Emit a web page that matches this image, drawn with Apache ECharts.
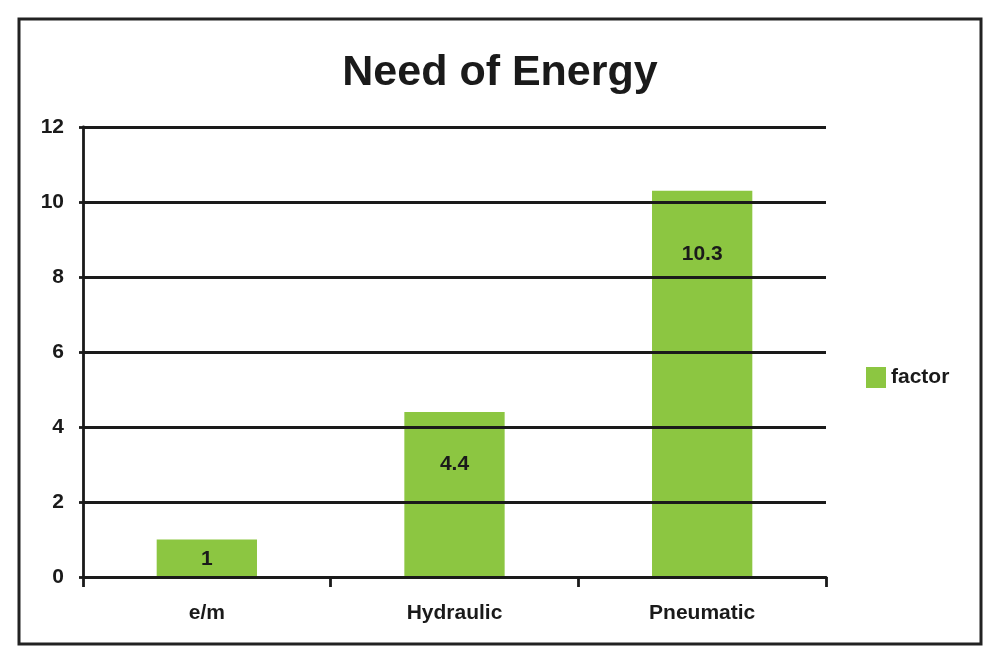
<!DOCTYPE html>
<html>
<head>
<meta charset="utf-8">
<script src="https://cdn.jsdelivr.net/npm/echarts@6/dist/echarts.min.js"></script>
<style>html,body{margin:0;padding:0;background:#fff}#c{width:1000px;height:663px}</style>
</head>
<body>
<div id="c"></div>
<script>
const titleText = 'Need of Energy';
const categories = ['e/m', 'Hydraulic', 'Pneumatic'];
const seriesName = 'factor';
const factorValues = [1, 4.4, 10.3];
const yTicks = [0, 2, 4, 6, 8, 10, 12];

// label placement styles (per bar)
const labelDist = [9, 42, 53];

const chart = echarts.init(document.getElementById('c'));
const F = 'Liberation Sans, Arial, Helvetica, sans-serif';
const green = '#8cc641';
chart.setOption({
  animation: false,
  backgroundColor: '#fff',
  title: {
    text: titleText, left: 'center', top: 47,
    textStyle: { fontFamily: F, fontSize: 43, fontWeight: 'bold', color: '#1a1a1a' }
  },
  graphic: [{
    type: 'rect', shape: { x: 19, y: 19, width: 962, height: 625 },
    style: { fill: 'none', stroke: '#222', lineWidth: 3 }, z: 0
  }],
  legend: {
    data: [seriesName], left: 861, top: 362, itemWidth: 20, itemHeight: 21, itemGap: 6,
    textStyle: { fontFamily: F, fontSize: 21, fontWeight: 'bold', color: '#1a1a1a' },
    icon: 'rect'
  },
  grid: { left: 83, right: 174, top: 127, bottom: 86, containLabel: false },
  xAxis: {
    type: 'category', data: categories, z: 5,
    axisLine: { lineStyle: { color: '#1a1a1a', width: 2.8 } },
    axisTick: { show: true, length: 10, inside: false, lineStyle: { color: '#1a1a1a', width: 2.8 } },
    axisLabel: { fontFamily: F, fontSize: 21, fontWeight: 'bold', color: '#1a1a1a', margin: 26 }
  },
  yAxis: {
    type: 'value', min: yTicks[0], max: yTicks[yTicks.length - 1], interval: yTicks[1] - yTicks[0], z: 5,
    axisLine: { show: true, lineStyle: { color: '#1a1a1a', width: 2.8 } },
    axisTick: { show: true, length: 4, lineStyle: { color: '#1a1a1a', width: 2.8 } },
    splitLine: { show: true, lineStyle: { color: '#1a1a1a', width: 2.8 } },
    axisLabel: { fontFamily: F, fontSize: 21, fontWeight: 'bold', color: '#1a1a1a', margin: 19 }
  },
  series: [{
    name: seriesName, type: 'bar', barWidth: '40.5%', z: 2,
    itemStyle: { color: green },
    data: factorValues.map((v, i) => ({
      value: v,
      label: { show: true, position: 'insideTop', distance: labelDist[i],
        fontFamily: F, fontSize: 21, fontWeight: 'bold', color: '#1a1a1a' }
    }))
  }]
});
</script>
</body>
</html>
